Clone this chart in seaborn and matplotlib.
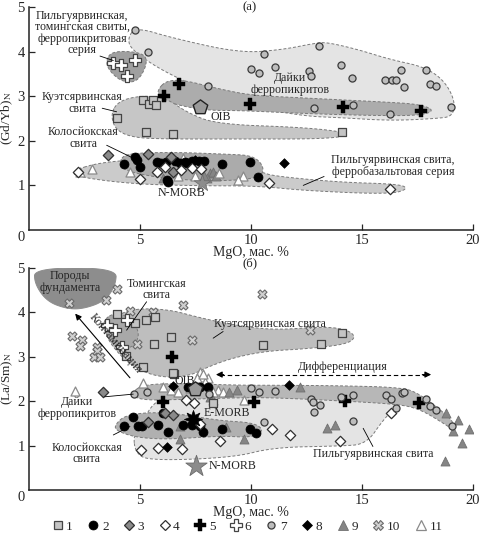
import numpy as np
import matplotlib
matplotlib.use("Agg")
import matplotlib.pyplot as plt
from matplotlib.lines import Line2D
import seaborn as sns

# ---------------- panel (a): (Gd/Yb)N vs MgO ----------------
a_s1 = [(3.98, 2.51), (5.15, 2.91), (5.41, 2.83), (5.60, 2.91), (5.72, 2.80), (5.27, 2.20), (6.50, 2.15), (14.1, 2.20)]
a_s2 = [(4.28, 1.48), (4.77, 1.64), (4.85, 1.57), (5.0, 1.42), (5.78, 1.52), (5.95, 1.50), (6.17, 1.52), (6.58, 1.55),
        (7.03, 1.53), (7.33, 1.55), (7.67, 1.55), (7.88, 1.55), (6.80, 1.50), (7.10, 1.51), (8.68, 1.47), (6.20, 1.12),
        (6.28, 1.08), (9.98, 1.52), (10.3, 1.18)]
a_s3 = [(3.58, 1.69), (5.37, 1.70), (6.38, 1.63), (6.48, 1.31)]
a_s4 = [(2.19, 1.31), (5.02, 1.15), (5.75, 1.30), (6.13, 1.42), (6.85, 1.34), (7.33, 1.40), (7.74, 1.36), (10.82, 1.05),
        (16.26, 0.91)]
a_s5 = [(6.77, 3.27), (6.08, 3.01), (9.95, 2.83), (14.14, 2.76), (17.67, 2.67)]
a_s6 = [(3.80, 3.75), (4.13, 3.69), (4.77, 3.81), (4.40, 3.45)]
a_s7 = [(4.77, 4.48), (5.35, 4.0), (8.07, 3.23), (10.6, 3.95), (10.0, 3.62), (10.36, 3.52), (11.07, 3.65), (13.09, 4.13),
        (12.61, 3.57), (12.72, 3.45), (14.05, 3.69), (14.55, 3.40), (16.05, 3.36), (16.35, 3.36), (16.53, 3.37),
        (16.76, 3.59), (16.89, 3.20), (17.91, 3.58), (18.05, 3.28), (18.33, 3.23), (19.0, 2.76), (12.84, 2.73),
        (14.58, 2.80), (16.26, 2.59)]
a_s8 = [(11.5, 1.50), (7.5, 1.58)]
a_s9 = [(8.15, 1.27), (8.30, 1.31), (8.03, 1.16), (6.02, 1.16), (7.9, 1.22), (8.45, 1.22)]
a_s11 = [(2.30, 1.31), (2.82, 1.37), (4.57, 1.29), (6.92, 1.61), (6.70, 1.20), (7.48, 1.20), (8.58, 1.27),
         (9.65, 1.20), (9.4, 1.12)]
a_oib = (7.70, 2.75)
a_nmorb = (7.78, 1.06)

# field outlines, panel (a)
a_f_dykes = [(4.45, 4.3), (4.8, 4.55), (6.5, 4.3), (9.5, 3.97), (11.4, 4.04), (13.0, 4.2), (13.5, 4.2), (14.8, 4.05),
             (16.3, 3.82), (17.8, 3.66), (18.7, 3.36), (19.2, 2.9), (19.1, 2.55), (18.4, 2.5), (16.3, 2.45),
             (14.0, 2.52), (12.5, 2.55), (10.5, 2.72), (9.5, 2.95), (7.7, 3.18), (5.9, 3.6), (4.6, 4.05)]
a_f_plus = [(5.8, 3.15), (6.2, 3.35), (7.0, 3.36), (8.5, 3.17), (10, 3.02), (12, 2.97), (14, 2.92), (16, 2.87),
            (17.6, 2.82), (18.3, 2.68), (17.6, 2.56), (15, 2.57), (12, 2.62), (9.5, 2.68), (8.0, 2.68), (6.5, 2.82),
            (5.85, 2.98)]
a_f_tom = [(3.45, 3.78), (3.75, 4.02), (5.15, 3.98), (5.35, 3.74), (4.9, 3.32), (4.2, 3.32), (3.65, 3.55)]
a_f_kuet = [(3.68, 2.6), (4.05, 2.9), (5.15, 3.02), (6.25, 2.94), (7.1, 2.64), (8.45, 2.37), (12.5, 2.3),
            (14.55, 2.17), (13.7, 2.04), (9.0, 2.04), (6.2, 2.04), (4.7, 2.07), (3.9, 2.24)]
a_f_ferrob = [(1.85, 1.31), (3.2, 1.52), (5.45, 1.59), (8.5, 1.5), (10.5, 1.3), (11.0, 1.21), (14.0, 1.07),
              (16.7, 1.03), (17.1, 0.92), (16.26, 0.8), (12.5, 0.88), (10.26, 0.99), (7.7, 0.99), (4.7, 1.03),
              (2.3, 1.18)]
a_f_kolos = [(4.1, 1.55), (4.3, 1.68), (5.0, 1.73), (6.8, 1.74), (8.9, 1.7), (10.1, 1.67), (10.6, 1.42),
             (10.45, 1.18), (9.05, 1.1), (7.0, 1.12), (5.5, 1.2), (4.2, 1.35)]

# ---------------- panel (б): (La/Sm)N vs MgO ----------------
b_s1 = [(3.98, 3.96), (4.80, 3.77), (5.26, 3.83), (5.70, 3.89), (4.37, 3.02), (5.15, 2.78), (5.63, 3.30), (6.38, 3.45),
        (6.55, 2.61), (10.53, 3.27), (13.18, 3.30), (14.11, 3.53), (6.5, 2.63), (8.3, 1.95)]
b_s2 = [(7.18, 2.33), (7.70, 2.33), (8.08, 2.31), (4.28, 1.45), (4.70, 1.65), (4.90, 1.44), (5.08, 1.44), (5.80, 1.46),
        (6.25, 1.31), (6.92, 1.46), (7.33, 1.46), (7.70, 1.44), (7.85, 1.31), (8.68, 1.37), (6.05, 1.73), (9.95, 1.37),
        (10.25, 1.29)]
b_s3 = [(3.35, 2.21), (6.12, 1.73), (6.50, 1.69), (5.38, 1.54)]
b_s4 = [(5.07, 0.89), (5.83, 0.95), (6.88, 0.92), (7.07, 2.03), (7.45, 1.96), (7.70, 1.49), (8.62, 1.11), (10.93, 1.38),
        (11.78, 1.24), (14.0, 1.10), (16.33, 1.74)]
b_s5 = [(6.43, 2.99), (6.05, 1.99), (10.15, 1.98), (14.23, 2.0), (17.57, 1.97)]
b_s6 = [(3.50, 3.72), (3.87, 3.60), (4.40, 3.83), (4.18, 3.23)]
b_s7 = [(4.74, 2.16), (5.30, 2.20), (8.12, 2.16), (10.0, 2.29), (10.36, 2.21), (11.08, 2.24), (12.7, 2.06),
        (12.78, 1.99), (13.12, 1.91), (12.85, 1.75), (14.08, 2.10), (14.58, 2.14), (16.08, 2.14), (16.33, 2.06),
        (16.56, 1.84), (16.79, 2.18), (16.9, 2.21), (17.91, 2.06), (18.06, 1.89), (18.33, 1.80), (19.07, 1.44),
        (14.58, 1.55), (10.6, 1.54)]
b_s8 = [(6.47, 2.34), (11.7, 2.36), (6.24, 0.96)]
b_s9 = [(12.2, 2.33), (13.45, 1.40), (13.81, 1.46), (18.78, 1.73), (19.34, 1.58), (19.11, 1.33), (19.83, 1.37),
        (19.53, 1.07), (18.74, 0.65), (9.68, 1.14), (6.8, 1.45), (6.8, 1.16), (8.87, 1.41), (8.15, 2.10), (8.29, 2.03),
        (9.36, 2.25), (9.0, 2.2)]
b_s10 = [(3.98, 4.52), (3.47, 4.28), (1.80, 4.22), (4.55, 4.03), (5.60, 4.02), (6.92, 4.17), (1.92, 3.47), (2.37, 3.38),
         (2.30, 3.24), (3.05, 3.23), (3.08, 3.14), (2.94, 3.0), (3.20, 3.0), (4.85, 3.29), (7.33, 3.38), (10.5, 4.41),
         (12.66, 3.60)]
b_s11 = [(2.07, 2.24), (5.15, 2.40), (6.05, 2.33), (6.38, 2.25), (6.73, 2.21), (7.25, 2.29), (7.70, 2.66), (7.78, 2.55),
         (7.55, 2.52), (8.08, 2.52), (7.93, 2.44), (8.53, 2.25), (8.75, 2.21), (8.30, 2.21), (9.68, 2.03), (7.85, 2.62)]
b_oib = (7.48, 2.27)
b_emorb = (7.40, 1.61)
b_nmorb = (7.52, 0.54)

# field outlines, panel (б)
b_f_base = [(0.25, 5.0), (3.95, 5.0), (3.9, 4.6), (3.4, 4.25), (2.45, 4.08), (1.7, 4.08), (0.8, 4.25), (0.25, 4.65)]
b_f_kuet = [(3.3, 3.68), (4.4, 4.08), (6.2, 4.08), (7.7, 3.88), (9.2, 3.72), (11.0, 3.6), (13.26, 3.68), (14.3, 3.62),
            (14.75, 3.45), (14.3, 3.28), (12.5, 3.18), (10.7, 3.13), (9.2, 2.98), (8.0, 2.76), (7.25, 2.57),
            (5.9, 2.53), (4.7, 2.76), (3.75, 3.22)]
b_f_tom = [(3.2, 3.8), (4.1, 4.05), (5.05, 3.6), (4.7, 3.17), (3.75, 3.25)]
b_f_pilg = [(4.7, 1.25), (4.8, 0.83), (5.45, 0.66), (9.2, 0.73), (11.0, 0.96), (14.0, 0.99), (15.2, 1.03),
            (15.96, 1.58), (16.56, 1.88), (16.9, 2.18), (14.0, 2.03), (11.0, 2.1), (9.2, 2.1), (6.2, 2.1), (5.6, 1.95),
            (5.15, 1.58)]
b_f_dykes = [(4.6, 2.18), (5.15, 2.38), (6.95, 2.4), (9.5, 2.36), (11.0, 2.36), (14.0, 2.35), (16.86, 2.31),
             (17.6, 2.16), (18.5, 1.82), (19.1, 1.56), (19.2, 1.33), (18.5, 1.56), (17.6, 1.82), (16.7, 1.93),
             (14.0, 2.01), (11.0, 2.08), (9.5, 2.08), (6.95, 2.04), (5.0, 2.02)]
b_f_kolos = [(3.85, 1.46), (4.4, 1.71), (6.2, 1.76), (8.6, 1.56), (10.1, 1.52), (10.6, 1.35), (10.1, 1.18),
             (8.6, 1.22), (6.35, 1.14), (4.85, 1.18), (3.95, 1.33)]

LEGEND_LABELS = ["1", "2", "3", "4", "5", "6", "7", "8", "9", "10", "11"]

sns.set_style("ticks")
plt.rcParams["font.family"] = ["Liberation Serif", "DejaVu Serif"]
plt.rcParams["mathtext.fontset"] = "stix"

STYLES = {
    "1": dict(marker="s", s=38, fc="#c4c4c4", ec="#444444", lw=0.9),
    "2": dict(marker="o", s=42, fc="black", ec="black", lw=0.5),
    "3": dict(marker="D", s=28, fc="#8a8a8a", ec="#303030", lw=0.9),
    "4": dict(marker="D", s=28, fc="white", ec="#303030", lw=0.9),
    "5": dict(marker="P", s=75, fc="black", ec="black", lw=0.3),
    "6": dict(marker="P", s=85, fc="white", ec="#444444", lw=0.9),
    "7": dict(marker="o", s=26, fc="#bdbdbd", ec="#3a3a3a", lw=0.9),
    "8": dict(marker="D", s=24, fc="black", ec="black", lw=0.5),
    "9": dict(marker="^", s=42, fc="#858585", ec="#707070", lw=0.6),
    "10": dict(marker="X", s=42, fc="#d0d0d0", ec="#6a6a6a", lw=0.8),
    "11": dict(marker="^", s=42, fc="white", ec="#8a8a8a", lw=0.9),
}


def smooth(pts, n=4):
    p = np.array(pts, dtype=float)
    for _ in range(n):
        q = np.roll(p, -1, axis=0)
        new = np.empty((2 * len(p), 2))
        new[0::2] = 0.75 * p + 0.25 * q
        new[1::2] = 0.25 * p + 0.75 * q
        p = new
    return p


def field(ax, pts, fc, z, ec="#7a7a7a", ls=(0, (3, 2))):
    p = smooth(pts)
    ax.fill(p[:, 0], p[:, 1], facecolor=fc, edgecolor=ec, linestyle=ls, linewidth=0.7, zorder=z)


def pts(ax, data, key, z=5):
    st = STYLES[key]
    xs = [d[0] for d in data]
    ys = [d[1] for d in data]
    sns.scatterplot(x=xs, y=ys, ax=ax, marker=st["marker"], s=st["s"], color=st["fc"],
                    edgecolor=st["ec"], linewidth=st["lw"], zorder=z, legend=False)


def leader(ax, x1, y1, x2, y2):
    ax.plot([x1, x2], [y1, y2], color="black", lw=0.6, zorder=9)


def style_axes(ax, ylabel):
    ax.set_xlim(0, 20)
    ax.set_ylim(0, 5)
    ax.set_xticks([5, 10, 15, 20])
    ax.set_yticks([1, 2, 3, 4, 5])
    ax.tick_params(direction="in", length=4, width=0.9, labelsize=10.5, pad=3)
    for sp in ["top", "right"]:
        ax.spines[sp].set_visible(False)
    for sp in ["left", "bottom"]:
        ax.spines[sp].set_linewidth(1.1)
        ax.spines[sp].set_color("#222222")
    ax.text(-0.36, -0.17, "0", ha="center", va="center", fontsize=10.5, clip_on=False)
    ax.set_xlabel("MgO, мас. %", fontsize=10)
    ax.xaxis.set_label_coords(0.5, -0.072)
    ax.set_ylabel(ylabel, fontsize=9.5, va="center")
    ax.yaxis.set_label_coords(-0.05, 0.5)


fig = plt.figure(figsize=(4.79, 5.38), dpi=100)
ax1 = fig.add_axes([0.0605, 0.5725, 0.9265, 0.4145])
ax2 = fig.add_axes([0.0605, 0.0892, 0.9265, 0.4126])
FS = 8.6

# ---- panel (a)
field(ax1, a_f_dykes, "#e4e4e4", 1)
field(ax1, a_f_plus, "#acacac", 2)
field(ax1, a_f_tom, "#a0a0a0", 2)
field(ax1, a_f_kuet, "#c6c6c6", 2)
field(ax1, a_f_ferrob, "#cbcbcb", 2)
field(ax1, a_f_kolos, "#ababab", 3)

pts(ax1, a_s1, "1")
pts(ax1, a_s9, "9")
pts(ax1, a_s11, "11")
pts(ax1, a_s2, "2")
pts(ax1, a_s3, "3")
pts(ax1, a_s4, "4")
pts(ax1, a_s5, "5")
pts(ax1, a_s6, "6")
pts(ax1, a_s7, "7")
pts(ax1, a_s8, "8")
sns.scatterplot(x=[a_oib[0]], y=[a_oib[1]], ax=ax1, marker="p", s=120, color="#9a9a9a",
                edgecolor="#222222", linewidth=1.0, zorder=6, legend=False)
sns.scatterplot(x=[a_nmorb[0]], y=[a_nmorb[1]], ax=ax1, marker="*", s=160, color="#8c8c8c",
                edgecolor="#6a6a6a", linewidth=0.5, zorder=6, legend=False)

ax1.text(2.4, 4.42, "Пильгуярвинская,\nтомингская свиты,\nферропикритовая\nсерия", ha="center", va="center",
         fontsize=FS, linespacing=0.95, zorder=10)
leader(ax1, 3.2, 3.9, 3.8, 3.8)
ax1.text(2.4, 2.85, "Куэтсярвинская\nсвита", ha="center", va="center", fontsize=FS, linespacing=0.95, zorder=10)
leader(ax1, 3.3, 2.73, 3.95, 2.65)
ax1.text(2.44, 2.06, "Колосйокская\nсвита", ha="center", va="center", fontsize=FS, linespacing=0.95, zorder=10)
leader(ax1, 3.5, 1.9, 4.7, 1.61)
ax1.text(6.87, 0.84, "N-MORB", ha="center", va="center", fontsize=FS, zorder=10)
ax1.text(8.2, 2.53, "OIB", ha="left", va="center", fontsize=FS, zorder=10)
ax1.text(11.76, 3.27, "Дайки\nферропикритов", ha="center", va="center", fontsize=FS, linespacing=0.95, zorder=10)
ax1.text(16.4, 1.43, "Пильгуярвинская свита,\nферробазальтовая серия", ha="center", va="center", fontsize=FS,
         linespacing=0.95, zorder=10)
leader(ax1, 13.3, 1.2, 12.36, 1.0)
ax1.text(9.95, 5.0, "(а)", ha="center", va="center", fontsize=FS + 0.5, clip_on=False)
style_axes(ax1, "(Gd/Yb)$_{\\mathrm{N}}$")

# ---- panel (б)
field(ax2, b_f_base, "#8d8d8d", 1, ec="#8d8d8d", ls="-")
field(ax2, b_f_kuet, "#bebebe", 1)
field(ax2, b_f_tom, "#a8a8a8", 2)
field(ax2, b_f_pilg, "#e4e4e4", 1)
field(ax2, b_f_dykes, "#b7b7b7", 2)
field(ax2, b_f_kolos, "#b0b0b0", 2)

pts(ax2, b_s10, "10")
pts(ax2, b_s11, "11")
pts(ax2, b_s9, "9")
pts(ax2, b_s1, "1")
pts(ax2, b_s2, "2")
pts(ax2, b_s3, "3")
pts(ax2, b_s4, "4")
pts(ax2, b_s5, "5")
pts(ax2, b_s6, "6")
pts(ax2, b_s7, "7")
pts(ax2, b_s8, "8")
sns.scatterplot(x=[b_oib[0]], y=[b_oib[1]], ax=ax2, marker="p", s=120, color="#9a9a9a",
                edgecolor="#222222", linewidth=1.0, zorder=6, legend=False)
sns.scatterplot(x=[b_emorb[0]], y=[b_emorb[1]], ax=ax2, marker=(8, 1, 0), s=170, color="black",
                edgecolor="black", linewidth=0.5, zorder=6, legend=False)
sns.scatterplot(x=[b_nmorb[0]], y=[b_nmorb[1]], ax=ax2, marker="*", s=260, color="#8c8c8c",
                edgecolor="#6a6a6a", linewidth=0.6, zorder=6, legend=False)

ax2.text(1.85, 4.68, "Породы\nфундамента", ha="center", va="center", fontsize=FS, linespacing=0.95, zorder=10)
ax2.text(5.75, 4.52, "Томингская\nсвита", ha="center", va="center", fontsize=FS, linespacing=0.95, zorder=10)
leader(ax2, 5.3, 4.24, 4.4, 3.6)
ax2.text(10.86, 3.75, "Куэтсярвинская свита", ha="center", va="center", fontsize=FS, zorder=10)
leader(ax2, 8.75, 3.57, 8.3, 3.42)
ax2.text(2.15, 1.85, "Дайки\nферропикритов", ha="center", va="center", fontsize=FS, linespacing=0.95, zorder=10)
leader(ax2, 3.42, 2.1, 4.7, 2.16)
ax2.text(2.6, 0.82, "Колосйокская\nсвита", ha="center", va="center", fontsize=FS, linespacing=0.95, zorder=10)
leader(ax2, 3.8, 1.24, 4.55, 1.43)
ax2.text(15.5, 0.81, "Пильгуярвинская свита", ha="center", va="center", fontsize=FS, zorder=10)
leader(ax2, 15.5, 0.98, 15.06, 1.39)
ax2.text(7.03, 2.46, "OIB", ha="center", va="center", fontsize=FS, zorder=10)
ax2.text(7.85, 1.73, "E-MORB", ha="left", va="center", fontsize=FS, zorder=10)
ax2.text(8.1, 0.54, "N-MORB", ha="left", va="center", fontsize=FS, zorder=10)

# contamination arrow
ax2.annotate("", xy=(2.0, 4.02), xytext=(4.63, 2.48),
             arrowprops=dict(arrowstyle="-|>", color="black", lw=0.8, mutation_scale=9), zorder=9)
ax2.text(3.68, 3.22, "Контаминация", rotation=-49.5, rotation_mode="anchor", ha="center", va="bottom",
         fontsize=FS, zorder=10)

# differentiation arrow
ax2.plot([8.6, 18.0], [2.6, 2.6], color="black", lw=0.8, ls=(0, (4, 2.5)), zorder=9)
ax2.annotate("", xy=(8.3, 2.6), xytext=(8.9, 2.6),
             arrowprops=dict(arrowstyle="-|>", color="black", lw=0.8, mutation_scale=9), zorder=9)
ax2.annotate("", xy=(18.25, 2.6), xytext=(17.6, 2.6),
             arrowprops=dict(arrowstyle="-|>", color="black", lw=0.8, mutation_scale=9), zorder=9)
ax2.text(14.16, 2.77, "Дифференциация", ha="center", va="center", fontsize=FS, zorder=10)

ax2.text(9.95, 5.1, "(б)", ha="center", va="center", fontsize=FS + 0.5, clip_on=False)
style_axes(ax2, "(La/Sm)$_{\\mathrm{N}}$")

# legend
handles = []
for key in LEGEND_LABELS:
    st = STYLES[key]
    handles.append(Line2D([], [], linestyle="none", marker=st["marker"], markersize=np.sqrt(st["s"]),
                          markerfacecolor=st["fc"], markeredgecolor=st["ec"], markeredgewidth=st["lw"]))
fig.legend(handles, LEGEND_LABELS, loc="center", bbox_to_anchor=(0.515, 0.021), ncol=11, frameon=False,
           handletextpad=0.15, columnspacing=1.05, handlelength=1.0, fontsize=9.5, borderpad=0.1)

fig.savefig("out.png", dpi=100)
